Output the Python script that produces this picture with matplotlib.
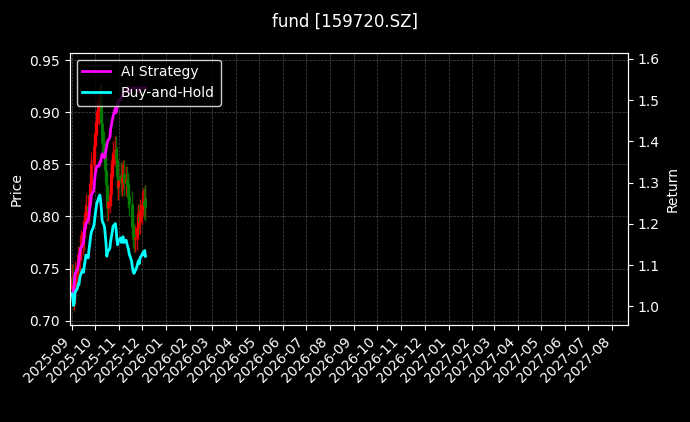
import pandas as pd
import numpy as np
import matplotlib
matplotlib.use("Agg")
import matplotlib.pyplot as plt
import matplotlib.dates as mdates

closes = [0.742, 0.735, 0.722, 0.728, 0.745, 0.752, 0.760, 0.758, 0.770, 0.775, 0.785,
          0.780, 0.792, 0.800, 0.810, 0.805, 0.820, 0.830, 0.842, 0.850, 0.860, 0.868,
          0.880, 0.890, 0.900, 0.912, 0.915, 0.905, 0.890, 0.870, 0.860, 0.845, 0.830,
          0.808, 0.815, 0.822, 0.835, 0.842, 0.850, 0.860, 0.865, 0.855, 0.838, 0.828,
          0.835, 0.840, 0.832, 0.838, 0.842, 0.832, 0.836, 0.830, 0.825, 0.820, 0.812,
          0.800, 0.790, 0.782, 0.778, 0.780, 0.790, 0.796, 0.800, 0.795, 0.805, 0.812,
          0.815, 0.810, 0.818, 0.808]
ai_return = [1.03, 1.03, 1.04, 1.06, 1.08, 1.09, 1.10, 1.11, 1.13, 1.14, 1.15,
             1.16, 1.18, 1.19, 1.20, 1.21, 1.22, 1.24, 1.25, 1.27, 1.28, 1.30,
             1.32, 1.33, 1.34, 1.34, 1.35, 1.35, 1.36, 1.37, 1.36, 1.37, 1.38,
             1.39, 1.40, 1.41, 1.43, 1.44, 1.45, 1.46, 1.48, 1.47, 1.48, 1.49,
             1.50, 1.50, 1.51, 1.51, 1.52, 1.52, 1.52, 1.53, 1.53, 1.53, 1.52,
             1.52, 1.53, 1.53, 1.53, 1.53, 1.53, 1.53, 1.52, 1.52, 1.53, 1.53,
             1.53, 1.53, 1.53, 1.53]
dates = pd.bdate_range("2025-09-01", periods=len(closes))

closes = np.array(closes)
opens = np.concatenate([[closes[0] - 0.012], closes[:-1]])
highs = np.maximum(opens, closes) + 0.012
lows = np.minimum(opens, closes) - 0.012
bh_return = closes / closes[0] * 1.03

plt.rcParams["font.family"] = "DejaVu Sans"
fig = plt.figure(figsize=(6.9, 4.22), dpi=100, facecolor="black")
ax = fig.add_axes([0.101, 0.230, 0.809, 0.645], facecolor="black")
ax2 = ax.twinx()

colors = ["red" if c >= o else "green" for o, c in zip(opens, closes)]
ax.vlines(dates, lows, highs, colors=colors, linewidth=1, alpha=0.8)
ax.vlines(dates, np.minimum(opens, closes), np.maximum(opens, closes), colors=colors, linewidth=2)

ax2.plot(dates, ai_return, color="magenta", linewidth=2, label="AI Strategy")
ax2.plot(dates, bh_return, color="cyan", linewidth=2, label="Buy-and-Hold")

ax.set_ylim(0.696, 0.957)
ax2.set_ylim(0.955, 1.615)
ax.set_xlim(pd.Timestamp("2025-08-29"), pd.Timestamp("2027-08-21"))
ax.xaxis.set_major_locator(mdates.MonthLocator())
ax.xaxis.set_major_formatter(mdates.DateFormatter("%Y-%m"))
plt.setp(ax.get_xticklabels(), rotation=45, ha="right")

ax.grid(True, color="gray", linestyle="--", linewidth=0.5, alpha=0.6)
ax.set_ylabel("Price", color="white")
ax2.set_ylabel("Return", color="white")
for a in (ax, ax2):
    a.tick_params(colors="white")
    for s in a.spines.values():
        s.set_color("white")

leg = ax2.legend(loc="upper left", facecolor="black", edgecolor="white")
for t in leg.get_texts():
    t.set_color("white")

fig.suptitle("fund [159720.SZ]", color="white", y=0.97)
fig.savefig("out.png", facecolor="black")
